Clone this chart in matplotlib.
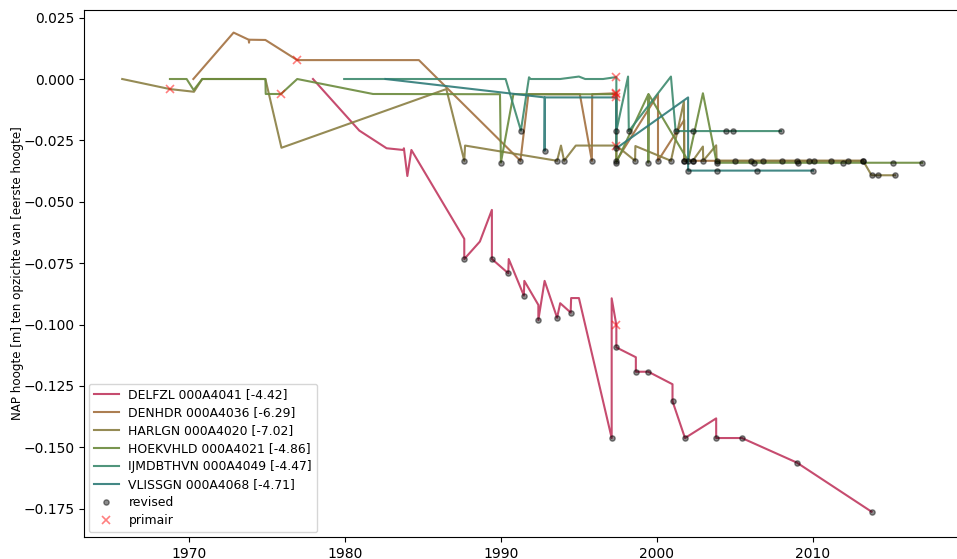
import matplotlib
matplotlib.use("Agg")
import matplotlib.pyplot as plt
from matplotlib.lines import Line2D

# Station labels and line colours
labels = [
    "DELFZL 000A4041 [-4.42]",
    "DENHDR 000A4036 [-6.29]",
    "HARLGN 000A4020 [-7.02]",
    "HOEKVHLD 000A4021 [-4.86]",
    "IJMDBTHVN 000A4049 [-4.47]",
    "VLISSGN 000A4068 [-4.71]",
]
colors = ["#c0385f", "#a3703f", "#8a7e42", "#6a8a3c", "#3d8a6e", "#2e7b78"]

# kind: "r" = revised measurement, "p" = primary measurement, "" = plain vertex
delfzl_years = [1977.95, 1980.92, 1982.67, 1983.74, 1983.78, 1984.00, 1984.26, 1986.80,
                1987.65, 1987.65, 1988.65, 1989.42, 1989.42, 1990.47, 1990.50, 1991.47,
                1991.50, 1992.40, 1992.40, 1992.80, 1993.60, 1993.80, 1994.47, 1994.50,
                1995.00, 1997.10, 1997.10, 1997.40, 1997.40, 1998.65, 1998.65, 1999.45,
                2001.00, 2001.00, 2001.80, 2003.80, 2003.80, 2005.45, 2008.97, 2013.76]
delfzl_values = [0.0, -0.0210, -0.0282, -0.0289, -0.0282, -0.0395, -0.0289, -0.0560,
                 -0.0651, -0.0733, -0.0662, -0.0533, -0.0733, -0.0791, -0.0733, -0.0882,
                 -0.0822, -0.0920, -0.0981, -0.0822, -0.0972, -0.0913, -0.0951, -0.0892,
                 -0.0892, -0.1462, -0.0893, -0.1002, -0.1093, -0.1133, -0.1192, -0.1192,
                 -0.1243, -0.1312, -0.1462, -0.1382, -0.1462, -0.1462, -0.1562, -0.1762]
delfzl_kind = ["", "", "", "", "", "", "", "",
               "", "r", "", "", "r", "r", "", "r",
               "", "", "r", "", "r", "", "r", "",
               "", "r", "", "p", "r", "", "r", "r",
               "", "r", "r", "", "r", "r", "r", "r"]

denhdr_years = [1970.28, 1972.86, 1973.83, 1973.85, 1973.87, 1974.90, 1976.94, 1984.74,
                1991.25, 1991.76, 1995.06, 1995.83, 1995.85, 1997.40, 1997.40, 2000.07,
                2000.07, 2001.75, 2001.75, 2002.30, 2005.00, 2007.99, 2009.76, 2011.15,
                2013.22]
denhdr_values = [0.0, 0.0189, 0.0160, 0.0148, 0.0160, 0.0159, 0.0077, 0.0077,
                 -0.0333, -0.0062, -0.0062, -0.0333, -0.0062, -0.0058, -0.0333, -0.0062,
                 -0.0333, -0.0167, -0.0333, -0.0333, -0.0333, -0.0333, -0.0333, -0.0333,
                 -0.0333]
denhdr_kind = ["", "", "", "", "", "", "p", "",
               "r", "", "", "r", "", "p", "r", "",
               "r", "", "r", "r", "r", "r", "r", "r",
               "r"]

harlgn_years = [1965.72, 1968.78, 1970.32, 1970.85, 1974.90, 1975.93, 1986.50, 1987.65,
                1987.70, 1993.60, 1993.85, 1994.05, 1994.80, 1997.40, 1998.60, 1998.62,
                2000.90, 2001.73, 2001.75, 2002.30, 2002.95, 2002.97, 2003.80, 2003.83,
                2006.03, 2006.80, 2008.95, 2010.08, 2012.26, 2013.22, 2013.76, 2014.20,
                2015.27]
harlgn_values = [0.0, -0.0041, -0.0052, 0.0, 0.0, -0.0280, -0.0041, -0.0333,
                 -0.0271, -0.0333, -0.0271, -0.0333, -0.0271, -0.0271, -0.0333, -0.0273,
                 -0.0333, -0.0092, -0.0333, -0.0333, -0.0275, -0.0333, -0.0270, -0.0333,
                 -0.0333, -0.0333, -0.0333, -0.0333, -0.0333, -0.0333, -0.0392, -0.0392,
                 -0.0392]
harlgn_kind = ["", "p", "", "", "", "", "", "r",
               "", "r", "", "r", "", "p", "r", "",
               "r", "", "r", "r", "", "r", "", "r",
               "r", "r", "r", "r", "r", "r", "r", "r",
               "r"]

hoekvhld_years = [1968.78, 1969.85, 1970.30, 1970.85, 1974.90, 1974.92, 1975.90, 1976.94,
                  1981.80, 1989.94, 1990.00, 1990.80, 1997.40, 1997.40, 1999.45, 1999.45,
                  1999.47, 2002.00, 2002.95, 2003.83, 2006.20, 2009.06, 2011.90, 2015.16,
                  2017.00]
hoekvhld_values = [0.0, 0.0, -0.0045, 0.0, 0.0, -0.0061, -0.0061, 0.0,
                   -0.0061, -0.0062, -0.0340, -0.0062, -0.0062, -0.0340, -0.0062, -0.0340,
                   -0.0062, -0.0333, -0.0058, -0.0341, -0.0341, -0.0341, -0.0341, -0.0341,
                   -0.0341]
hoekvhld_kind = ["", "", "", "", "", "", "p", "",
                 "", "", "r", "", "p", "r", "", "r",
                 "", "r", "", "r", "r", "r", "r", "r",
                 "r"]

ijmdbthvn_years = [1979.95, 1990.30, 1991.28, 1991.80, 1991.90, 1993.80, 1995.00, 1995.40,
                   1996.55, 1997.40, 1997.40, 1998.15, 1998.20, 2000.90, 2001.20, 2002.30,
                   2004.40, 2004.90, 2007.95]
ijmdbthvn_values = [0.0, 0.0, -0.0210, 0.0007, 0.0, 0.0, 0.0010, 0.0,
                    0.0, 0.0008, -0.0212, 0.0010, -0.0212, 0.0010, -0.0212, -0.0212,
                    -0.0212, -0.0212, -0.0212]
ijmdbthvn_kind = ["", "", "r", "", "", "", "", "",
                  "", "p", "r", "", "r", "", "r", "r",
                  "r", "r", "r"]

vlissgn_years = [1982.60, 1992.80, 1992.80, 1992.82, 1997.40, 1997.40, 2002.00, 2002.00,
                 2003.85, 2006.40, 2010.00]
vlissgn_values = [0.0, -0.0075, -0.0292, -0.0075, -0.0075, -0.0282, -0.0075, -0.0373,
                  -0.0373, -0.0373, -0.0373]
vlissgn_kind = ["", "", "r", "", "p", "r", "", "r",
                "r", "r", "r"]

series = [
    (delfzl_years, delfzl_values, delfzl_kind),
    (denhdr_years, denhdr_values, denhdr_kind),
    (harlgn_years, harlgn_values, harlgn_kind),
    (hoekvhld_years, hoekvhld_values, hoekvhld_kind),
    (ijmdbthvn_years, ijmdbthvn_values, ijmdbthvn_kind),
    (vlissgn_years, vlissgn_values, vlissgn_kind),
]

fig = plt.figure(figsize=(9.57, 5.59), dpi=100)
ax = fig.add_axes([84 / 957, 22 / 559, 878 / 957, 527 / 559])

for (yrs, vals, kind), lab, col in zip(series, labels, colors):
    ax.plot(yrs, vals, color=col, lw=1.5, alpha=0.9, label=lab)

for yrs, vals, kind in series:
    rx = [x for x, k in zip(yrs, kind) if k == "r"]
    ry = [y for y, k in zip(vals, kind) if k == "r"]
    px = [x for x, k in zip(yrs, kind) if k == "p"]
    py = [y for y, k in zip(vals, kind) if k == "p"]
    ax.plot(rx, ry, "o", color="black", alpha=0.45, ms=3.8, zorder=3)
    ax.plot(px, py, "x", color="red", alpha=0.5, ms=6, mew=1.2, zorder=3)

ax.set_xlim(1963.27, 2019.56)
ax.set_ylim(-0.1865, 0.0281)
ax.set_xticks([1970, 1980, 1990, 2000, 2010])
ax.set_yticks([0.025, 0.0, -0.025, -0.05, -0.075, -0.1, -0.125, -0.15, -0.175])
ax.set_ylabel("NAP hoogte [m] ten opzichte van [eerste hoogte]", fontsize=8.6)
ax.yaxis.set_label_coords(-0.068, 0.5)

handles, _ = ax.get_legend_handles_labels()
handles += [
    Line2D([], [], ls="", marker="o", color="black", alpha=0.45, ms=3.8),
    Line2D([], [], ls="", marker="x", color="red", alpha=0.5, ms=6, mew=1.2),
]
ax.legend(handles, labels + ["revised", "primair"], loc="lower left", fontsize=8.9,
          labelspacing=0.4, borderaxespad=0.4)

fig.savefig("out.png", dpi=100)
